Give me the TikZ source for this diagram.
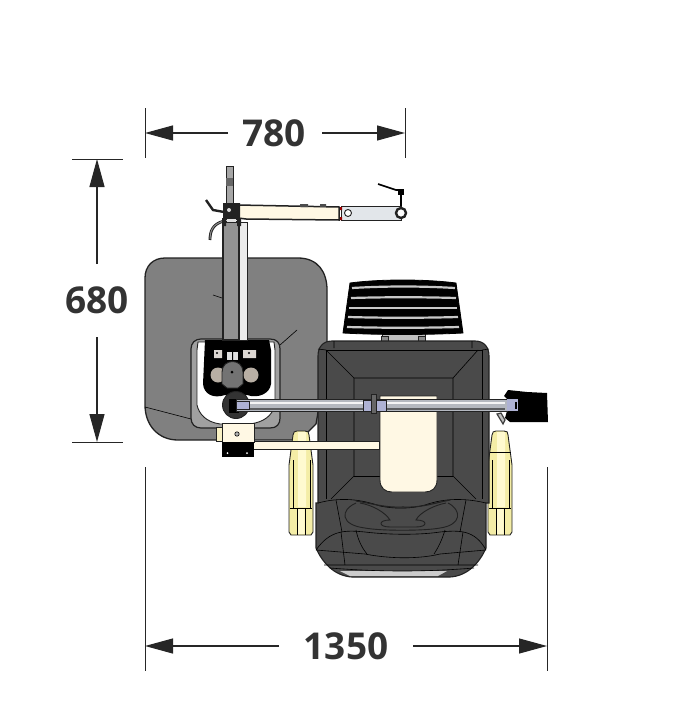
\documentclass[tikz,border=0pt]{standalone}
\usepackage{fontspec}
\setmainfont{Open Sans}
\usetikzlibrary{arrows.meta}
\definecolor{tablegrey}{HTML}{808080}
\definecolor{columngrey}{HTML}{929292}
\definecolor{chairgrey}{HTML}{4A4A4A}
\definecolor{edgegrey}{HTML}{222222}
\definecolor{creampad}{HTML}{FFF8E4}
\definecolor{armyellow}{HTML}{F4EDA6}
\definecolor{armlight}{HTML}{FFFAD0}
\definecolor{tubegrey}{HTML}{B4B8C0}
\definecolor{tubelilac}{HTML}{AEB2D4}
\definecolor{armblue}{HTML}{E2E6EA}
\definecolor{knobbeige}{HTML}{B8AFA4}
\tikzset{
  dimlabel/.style={font=\fontsize{37}{37}\selectfont\bfseries, text=black!80, inner sep=0pt},
  dimline/.style={draw=black!85, line width=1.2pt, -{Stealth[length=28pt,width=15pt,inset=0pt]}},
  extline/.style={draw=black!85, line width=0.8pt},
  part/.style={draw=edgegrey, line width=0.9pt},
  thin part/.style={draw=black, line width=0.6pt}
}
\begin{document}
\begin{tikzpicture}[x=1pt,y=-1pt]
  \useasboundingbox (0,0) rectangle (682,720);
  % table
  \path[part, line width=1.3pt, fill=tablegrey] (165,258) -- (298,258) .. controls (318,258) and (327,272) .. (327,290)
    -- (327,360) -- (316,424) -- (300,440) -- (178,440) .. controls (158,440) and (145,425) .. (145,405) -- (145,278)
    .. controls (145,266) and (153,258) .. (165,258) -- cycle;
  \draw[thin part] (145,407) -- (191,419);
  \draw[thin part] (213,295) -- (222,298);
  \draw[thin part] (280,345) -- (297,330);
  % table cut-out
  \path[part, line width=1.2pt, fill=tablegrey!75!white] (201,339) -- (270,339) .. controls (277,339) and (280,343) .. (280,349) -- (280,418)
    .. controls (280,424) and (277,428) .. (270,428) -- (201,428) .. controls (195,428) and (191,424) .. (191,418) -- (191,349)
    .. controls (191,343) and (195,339) .. (201,339) -- cycle;
  \path[part, fill=white] (198,342) -- (274,342) -- (275,350) -- (275,405) .. controls (272,416) and (264,422) .. (250,424)
    -- (220,424) .. controls (206,422) and (199,414) .. (197,405) -- (197,350) -- cycle;
  \path[fill=black] (205,340) -- (269,340) -- (271,350) -- (271,384) .. controls (270,393) and (259,399) .. (247,395)
    -- (225,395) .. controls (213,399) and (204,394) .. (203,384) -- cycle;
  \fill[knobbeige] (218,375) circle (7.5) (251,375) circle (7.5);
  \fill[black!12] (227,352) rectangle (238,360);
  \fill[knobbeige!50!white] (214,350) rectangle (222,358) (243,350) rectangle (256,358);
  \fill[black] (217,353) circle (1.2) (249,353) circle (1.2) (232,352) rectangle (233,360);
  % right dark chair
  \path[part, fill=black!25] (382,332) rectangle (425,342);
  \path[part, fill=black!45] (381,336) rectangle (388,342) (418,336) rectangle (425,342);
  \foreach \sx/\tx in {289/293, 488/492}{
    \path[part, fill=armyellow] (\tx,435) .. controls (\tx,432) and (\tx+2,431) .. (\tx+4,431) -- (\tx+12,431)
      .. controls (\tx+15,431) and (\tx+16,432) .. (\tx+16,435) -- (\sx+24,465) -- (\sx+24,532) -- (\sx+22,535) -- (\sx+2,535) -- (\sx,532) -- (\sx,465) -- cycle;
    \fill[armlight] (\sx+9,432) rectangle (\sx+17,507) (\sx+8.5,509) rectangle (\sx+15.5,534);
    \draw[thin part] (\sx+1,508) -- (\sx+23,508);
    \draw[thin part] (\sx+8,508) -- (\sx+8,535) (\sx+16,508) -- (\sx+16,535) (\sx+4,460) -- (\sx+4,508) (\sx+21,460) -- (\sx+21,508);
  }
  \draw[thin part] (490,452) -- (511,452);
  \path[part, line width=1.1pt, fill=chairgrey] (332,341) -- (475,341) .. controls (484,341) and (489,347) .. (489,356) -- (489,503)
    -- (486,503) -- (486,548) .. controls (480,562) and (468,576) .. (450,577) -- (352,577) .. controls (334,576) and (322,562) .. (316,548)
    -- (316,503) -- (318,503) -- (318,356) .. controls (318,347) and (323,341) .. (332,341) -- cycle;
  \fill[black!20] (340,571) -- (447,571) -- (438,576) -- (350,576) -- cycle;
  % chair lines
  \draw[thin part] (326,499) -- (326,350) -- (482,350) -- (482,499);
  \draw[thin part] (326,350) -- (354,378) -- (453,378) -- (478,350);
  \draw[thin part] (354,378) -- (354,476) -- (331,499);
  \draw[thin part] (453,378) -- (453,476) -- (476,499);
  \draw[thin part] (354,476) -- (380,476) (437,476) -- (453,476);
  \draw[thin part] (318,349) -- (326,350) (489,349) -- (482,350) (334,341) -- (334,348) (472,341) -- (472,348);
  % chair seat
  \draw[thin part] (318,503) .. controls (340,497) and (360,499) .. (380,506) .. controls (395,509) and (410,509) .. (425,505)
    .. controls (445,498) and (465,498) .. (486,503);
  \draw[part, line width=1.1pt] (356,501) .. controls (370,503) and (385,508) .. (403,507) .. controls (420,508) and (435,503) .. (450,500);
  \draw[part] (356,503) .. controls (340,510) and (340,525) .. (365,528) .. controls (380,531) and (425,531) .. (440,528)
    .. controls (462,525) and (462,510) .. (448,503);
  \draw[part] (360,503) .. controls (372,505) and (385,512) .. (390,520) .. controls (378,520) and (378,527) .. (390,527)
    -- (416,527) .. controls (428,527) and (428,520) .. (416,520) .. controls (420,512) and (435,505) .. (446,503);
  \draw[thin part] (316,550) .. controls (330,530) and (345,530) .. (365,532) .. controls (390,535) and (420,535) .. (440,532)
    .. controls (460,530) and (475,530) .. (486,550);
  \draw[thin part] (336,500) -- (342,532) (466,500) -- (460,532);
  \draw[thin part] (316,550) -- (365,554) .. controls (390,559) and (420,559) .. (440,554) -- (486,550);
  \draw[thin part] (356,530) .. controls (358,540) and (362,548) .. (367,554) (445,530) .. controls (442,540) and (438,548) .. (434,554);
  \draw[thin part] (341,532) -- (345,565) (463,532) -- (458,565) (324,565) -- (478,565);
  \draw[thin part] (330,568) .. controls (380,572) and (425,572) .. (474,568);
  % head rest
  \path[draw=black, fill=black, line width=0.8pt] (350,283) .. controls (380,279) and (425,279) .. (456,283)
    -- (463,333) .. controls (425,335) and (380,335) .. (343,333) -- cycle;
  \foreach \ya/\xa/\xb/\yb in {288/352/455/-2, 298/351/456/-1, 308/349/457/0, 317/348/458/1, 327/347/459/1}{
    \draw[line width=2.2pt, black!22] (\xa,\ya) .. controls (\xa+35,\ya+\yb) and (\xb-35,\ya+\yb) .. (\xb,\ya);
  }
  % cream pad and arm
  \path[part, fill=creampad] (380,396) -- (437,396) -- (437,480) .. controls (437,488) and (432,492) .. (425,492)
    -- (392,492) .. controls (385,492) and (380,488) .. (380,480) -- cycle;
  \path[part, fill=creampad] (250,441) rectangle (379,449);
  % column
  \path[part, fill=black!35] (226,166) rectangle (233,206);
  \fill[black!60] (226,178) rectangle (233,186);
  \path[part, fill=black!8] (238,222) rectangle (247,340);
  \path[draw=edgegrey, line width=1.8pt, fill=columngrey] (223,222) rectangle (239,340);
  % top arm
  \path[draw=edgegrey, line width=1.5pt, fill=creampad] (238,205) -- (339,207) -- (339,220) -- (246,219) -- (238,218) -- cycle;
  \fill[black!70] (300,204) rectangle (308,207) (320,204) rectangle (326,207);
  \path[part, fill=armblue] (341,206) -- (401,206) -- (401,220) -- (341,220) -- cycle;
  \fill[red!60!black] (340,207) rectangle (342,210) (340,217) rectangle (342,220);
  \draw[part, fill=white] (348,213) circle (3.5);
  \draw[edgegrey, line width=2.4pt, fill=white] (401,213) circle (5);
  \draw[black, line width=1.6pt] (378,184) -- (396,190) -- (401,190) -- (401,206);
  \fill[black] (398,189) rectangle (404,195);
  % left levers and head
  \draw[edgegrey, line width=2.4pt] (206,200) -- (213,210) -- (224,212);
  \draw[edgegrey, line width=2.8pt] (210,240) .. controls (210,232) and (212,224) .. (224,221);
  \draw[black!45, line width=1pt] (210,239) .. controls (210,232) and (212,224) .. (224,221);
  \fill[edgegrey] (223,203) rectangle (240,220) (222,218) rectangle (226,226) (237,218) rectangle (241,226);
  \fill[white!85!black] (229,210) circle (2);
  \fill[black!12] (227,219) rectangle (236,222);
  % plate, ball and tube
  \path[part, fill=black!55] (222,372) .. controls (222,358) and (243,358) .. (243,372) -- (243,384) -- (238,388) -- (227,388) -- (222,384) -- cycle;
  \fill[black] (232,372) circle (1.5);
  \draw[part, fill=black!80] (236,405) circle (13.5);
  \fill[black] (229,399) rectangle (239,413);
  % motor
  \path[fill=black] (508,390) -- (527,392) -- (547,393) -- (548,422) -- (510,422) -- (505,418) -- (507,411) -- (507,399) -- (504,396) -- cycle;
  \path[part, fill=tubegrey] (236,399) rectangle (507,411);
  \fill[white!85!tubegrey] (244,402) rectangle (505,404);
  \fill[black!50!tubegrey] (244,408) rectangle (505,410);
  \path[part, fill=tubelilac] (236,401) rectangle (249,409);
  \path[part, fill=tubelilac] (363,400) rectangle (386,411);
  \path[part, fill=black!60] (371,394) rectangle (376,413);
  \path[draw=black!75, line width=1.2pt, fill=black!25] (497,414) -- (503,424) -- (505,420) -- (501,413) -- cycle;
  \path[fill=tubelilac] (507,399) rectangle (518,411);
  \fill[black] (515,402) rectangle (517,409);
  % clamp
  \path[part, fill=armyellow!50!creampad] (216,427) rectangle (222,441);
  \path[part, fill=creampad] (222,423) rectangle (254,442);
  \draw[thin part, fill=black!30] (237,434) circle (2.2);
  \path[fill=black] (222,442) rectangle (254,457);
  \fill[white] (227.5,453) circle (1) (247,453) circle (1);
  % dimensions
  \node (w780) [dimlabel] at (274,133) {780};
  \coordinate (w780a) at (145,133);
  \coordinate (w780b) at (405,133);
  \draw[dimline] (228,133) -- (w780a);
  \draw[dimline] (322,133) -- (w780b);
  \draw[extline] (145,108) -- (145,158);
  \draw[extline] (405,108) -- (405,158);
  \node (h680) [dimlabel] at (97,300) {680};
  \coordinate (h680a) at (97,159);
  \coordinate (h680b) at (97,442);
  \draw[dimline] (97,264) -- (h680a);
  \draw[dimline] (97,337) -- (h680b);
  \draw[extline] (72,159) -- (123,159);
  \draw[extline] (72,442) -- (123,442);
  \node (w1350) [dimlabel] at (346,646) {1350};
  \coordinate (w1350a) at (145,646);
  \coordinate (w1350b) at (547,646);
  \draw[dimline] (279,646) -- (w1350a);
  \draw[dimline] (413,646) -- (w1350b);
  \draw[extline] (145,467) -- (145,671);
  \draw[extline] (547,467) -- (547,671);
\end{tikzpicture}
\end{document}
